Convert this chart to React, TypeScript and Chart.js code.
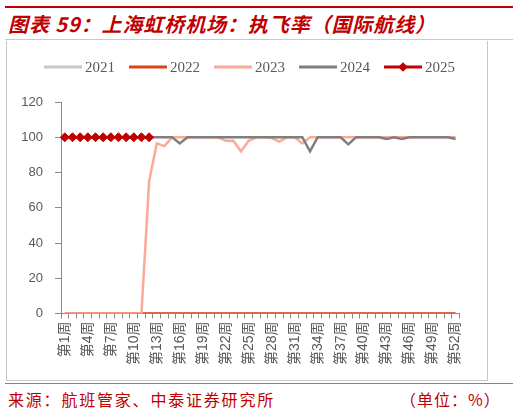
import React, { useEffect, useRef } from 'react';
import { Chart, registerables } from 'chart.js';

Chart.register(...registerables);

const weeks = [
  '第1周','第2周','第3周','第4周','第5周','第6周','第7周','第8周','第9周','第10周',
  '第11周','第12周','第13周','第14周','第15周','第16周','第17周','第18周','第19周','第20周',
  '第21周','第22周','第23周','第24周','第25周','第26周','第27周','第28周','第29周','第30周',
  '第31周','第32周','第33周','第34周','第35周','第36周','第37周','第38周','第39周','第40周',
  '第41周','第42周','第43周','第44周','第45周','第46周','第47周','第48周','第49周','第50周',
  '第51周','第52周',
];

const values2021 = [
  0,0,0,0,0,0,0,0,0,0, 0,0,0,0,0,0,0,0,0,0, 0,0,0,0,0,0,0,0,0,0,
  0,0,0,0,0,0,0,0,0,0, 0,0,0,0,0,0,0,0,0,0, 0,0,
];
const values2022 = [
  0,0,0,0,0,0,0,0,0,0, 0,0,0,0,0,0,0,0,0,0, 0,0,0,0,0,0,0,0,0,0,
  0,0,0,0,0,0,0,0,0,0, 0,0,0,0,0,0,0,0,0,0, 0,0,
];
const values2023 = [
  0,0,0,0,0,0,0,0,0,0, 0,75,96.5,95,100,100,100,100,100,100,
  100,98,98,92,98,100,100,99.5,97.5,100, 100,96.5,100,100,100,100,100,100,100,100,
  100,100,100,100,100,100,100,100,100,100, 100,100,
];
const values2024 = [
  100,100,100,100,100,100,100,100,100,100, 100,100,100,100,100,96.5,100,100,100,100,
  100,100,100,100,100,100,100,100,100,100, 100,100,92,100,100,100,100,96,100,100,
  100,100,99,100,99,100,100,100,100,100, 100,99,
];
const values2025 = [
  100,100,100,100,100,100,100,100,100,100, 100,100,
];

const seriesNames = ['2021', '2022', '2023', '2024', '2025'];
const seriesColors = ['#C8C8C8', '#DA4514', '#FBAA98', '#7F7F7F', '#C00000'];
const yTickMin = 0;
const yTickMax = 120;
const yTickStep = 20;

const CANVAS_W = 479;
const CANVAS_H = 337;

const legendPlugin = {
  id: 'customLegend',
  afterDraw(chart: any) {
    const ctx = chart.ctx as CanvasRenderingContext2D;
    ctx.save();
    const startX = 37;
    const pitch = 85;
    const y = 24;
    seriesNames.forEach((name, i) => {
      const x = startX + i * pitch;
      ctx.strokeStyle = seriesColors[i];
      ctx.lineWidth = 2.8;
      ctx.beginPath();
      ctx.moveTo(x, y);
      ctx.lineTo(x + 38, y);
      ctx.stroke();
      if (i === 4) {
        const cx = x + 19;
        const r = 4.8;
        ctx.fillStyle = seriesColors[i];
        ctx.beginPath();
        ctx.moveTo(cx, y - r);
        ctx.lineTo(cx + r, y);
        ctx.lineTo(cx, y + r);
        ctx.lineTo(cx - r, y);
        ctx.closePath();
        ctx.fill();
      }
      ctx.fillStyle = '#595959';
      ctx.font = '15px "Liberation Serif", "DejaVu Serif", serif';
      ctx.textBaseline = 'middle';
      ctx.textAlign = 'left';
      ctx.fillText(name, x + 41, y + 1);
    });
    ctx.restore();
  },
};

function ChartCanvas() {
  const ref = useRef<HTMLCanvasElement | null>(null);
  useEffect(() => {
    if (!ref.current) return;
    const allValues = [values2021, values2022, values2023, values2024, values2025];
    const orders = [5, 4, 3, 2, 1];
    const datasets = seriesNames.map((name, i) => ({
      label: name,
      data: allValues[i],
      borderColor: seriesColors[i],
      backgroundColor: seriesColors[i],
      borderWidth: 2.5,
      pointRadius: i === 4 ? 4.5 : 0,
      pointHoverRadius: 0,
      pointStyle: 'rectRot' as const,
      pointBorderWidth: 1,
      pointBackgroundColor: seriesColors[i],
      pointBorderColor: seriesColors[i],
      tension: 0,
      fill: false,
      order: orders[i],
      spanGaps: false,
    }));
    const chart = new Chart(ref.current, {
      type: 'line',
      data: { labels: weeks, datasets },
      options: {
        responsive: false,
        animation: false,
        layout: { padding: { left: 0, right: 26.6, top: 59, bottom: 0 } },
        plugins: {
          legend: { display: false },
          tooltip: { enabled: false },
        },
        scales: {
          x: {
            type: 'category',
            offset: true,
            grid: {
              offset: true,
              drawOnChartArea: false,
              drawTicks: true,
              tickLength: 5,
              color: '#898989',
            },
            border: { color: '#898989', width: 1 },
            ticks: {
              autoSkip: false,
              maxRotation: 90,
              minRotation: 90,
              padding: 3,
              color: '#595959',
              font: { size: 14, family: '"Liberation Sans", "Noto Sans CJK SC", sans-serif' },
              callback: (_v: any, i: number) => (i % 3 === 0 ? weeks[i] : ''),
            },
            afterFit: (s: any) => {
              s.height = 66.5;
            },
          },
          y: {
            min: yTickMin,
            max: yTickMax,
            ticks: {
              stepSize: yTickStep,
              padding: 12,
              color: '#595959',
              font: { size: 13, family: '"Liberation Sans", Arial, sans-serif' },
            },
            grid: {
              drawOnChartArea: false,
              drawTicks: true,
              tickLength: 6,
              color: '#898989',
            },
            border: { color: '#898989', width: 1 },
            afterFit: (s: any) => {
              s.width = 54;
            },
          },
        },
      },
      plugins: [legendPlugin],
    });
    return () => chart.destroy();
  }, []);
  return (
    <canvas
      ref={ref}
      width={CANVAS_W}
      height={CANVAS_H}
      style={{ display: 'block', width: CANVAS_W, height: CANVAS_H }}
    />
  );
}

export default function App() {
  const cjk = '"Noto Sans CJK SC", "Liberation Sans", sans-serif';
  return (
    <div
      style={{
        position: 'absolute',
        left: 0,
        top: 0,
        width: 519,
        height: 414,
        background: '#ffffff',
        overflow: 'hidden',
      }}
    >
      <div style={{ position: 'absolute', left: 5, top: 5.5, width: 508, height: 2, background: '#C00000' }} />
      <div
        style={{
          position: 'absolute',
          left: 8,
          top: 13,
          fontFamily: cjk,
          fontSize: 20,
          lineHeight: '22px',
          fontWeight: 700,
          fontStyle: 'italic',
          color: '#C00000',
          whiteSpace: 'nowrap',
          letterSpacing: 0.9,
        }}
      >
        图表 59：上海虹桥机场：执飞率（国际航线）
      </div>
      <div style={{ position: 'absolute', left: 5, top: 39, width: 508, height: 1, background: '#F2B8B8' }} />
      <div
        style={{
          position: 'absolute',
          left: 6,
          top: 41,
          width: 480,
          height: 339,
          borderLeft: '1px solid #C8C8C8',
          borderRight: '1px solid #C8C8C8',
          borderBottom: '1px solid #C8C8C8',
        }}
      />
      <div style={{ position: 'absolute', left: 7, top: 43 }}>
        <ChartCanvas />
      </div>
      <div style={{ position: 'absolute', left: 5, top: 383, width: 508, height: 1, background: '#D86060' }} />
      <div
        style={{
          position: 'absolute',
          left: 8,
          top: 390,
          fontFamily: cjk,
          fontSize: 16,
          lineHeight: '18px',
          color: '#C00000',
          whiteSpace: 'nowrap',
          letterSpacing: 1.8,
        }}
      >
        来源：航班管家、中泰证券研究所
      </div>
      <div
        style={{
          position: 'absolute',
          left: 400,
          top: 390,
          fontFamily: cjk,
          fontSize: 16,
          lineHeight: '18px',
          color: '#C00000',
          whiteSpace: 'nowrap',
          letterSpacing: 1,
        }}
      >
        （单位：%）
      </div>
    </div>
  );
}
